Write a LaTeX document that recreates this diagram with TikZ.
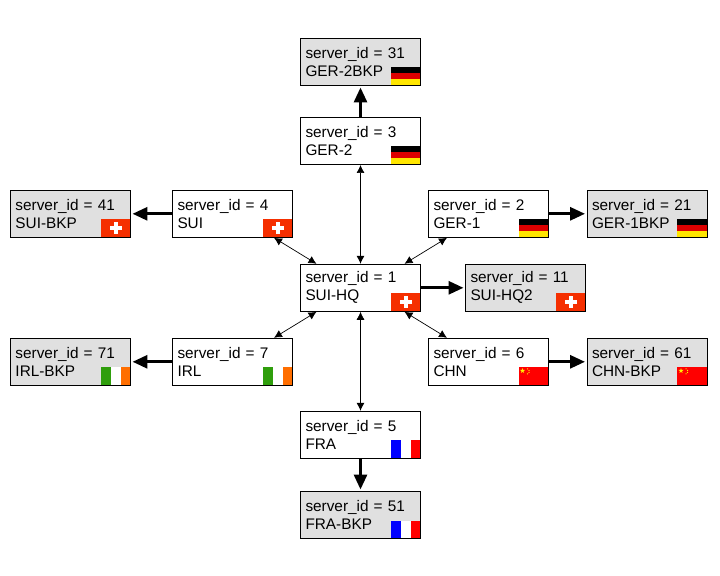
\documentclass[tikz,border=0pt]{standalone}
\usepackage{fontspec}
\setmainfont{Liberation Sans}
\usetikzlibrary{arrows.meta}
\usetikzlibrary{positioning}

\definecolor{boxgray}{HTML}{E0E0E0}
\definecolor{swissred}{HTML}{F52F00}
\definecolor{gergold}{HTML}{FFE600}
\definecolor{gerred}{HTML}{DD0000}
\definecolor{irlgreen}{HTML}{2F9E0C}
\definecolor{irlorange}{HTML}{FF6E00}
\definecolor{frablue}{HTML}{0000FF}

% offsets are measured from the lower right corner of the box
\newcommand{\flagrect}[5]{\fill[#1] ([xshift=#2bp,yshift=#3bp]path picture bounding box.south east) rectangle ([xshift=#4bp,yshift=#5bp]path picture bounding box.south east);}
\newcommand{\flagstar}[3]{\fill[yellow] ([xshift=#1bp,yshift=#2bp]path picture bounding box.south east) +(90:#3bp) -- +(234:#3bp) -- +(18:#3bp) -- +(162:#3bp) -- +(306:#3bp) -- cycle;}

\tikzset{
  server/.style = {draw, line width=1bp, minimum width=120bp, minimum height=47bp,
    inner sep=0pt, inner xsep=5bp, text width=110bp, align=left, font=\fontsize{15.4}{18}\selectfont},
  backup/.style = {server, fill=boxgray},
  link/.style = {line width=0.7pt, {Latex[length=8pt,width=8pt]}-{Latex[length=8pt,width=8pt]}},
  copyto/.style = {line width=3pt, -{Triangle[length=15pt,width=13pt]}, shorten >=1.5pt},
  flag ger/.style = {path picture={
    \flagrect{black}{-30}{18}{0}{12}
    \flagrect{gerred}{-30}{12}{0}{6}
    \flagrect{gergold}{-30}{6}{0}{0}}},
  flag sui/.style = {path picture={
    \flagrect{swissred}{-30}{18}{0}{0}
    \flagrect{white}{-17}{15}{-13}{3}
    \flagrect{white}{-21}{11}{-9}{7}}},
  flag irl/.style = {path picture={
    \flagrect{irlgreen}{-30}{18}{-20}{0}
    \flagrect{white}{-20}{18}{-10}{0}
    \flagrect{irlorange}{-10}{18}{0}{0}}},
  flag fra/.style = {path picture={
    \flagrect{frablue}{-30}{18}{-20}{0}
    \flagrect{white}{-20}{18}{-10}{0}
    \flagrect{red}{-10}{18}{0}{0}}},
  flag chn/.style = {path picture={
    \flagrect{red}{-30}{18}{0}{0}
    \flagstar{-26}{14.5}{2.7}
    \foreach \i/\j in {-21/16.5, -19.5/15, -19.5/13, -21/11.5} {
      \flagstar{\i}{\j}{0.8}}}},
}

\begin{document}
\begin{tikzpicture}[x=1bp, y=-1bp]
  \useasboundingbox (0,0) rectangle (720,576);

  % main servers
  \node[server, flag sui] (hq) at (360.5,287.8) {server\_id = 1\\SUI-HQ};
  \node[server, flag ger] (ger2) at (360.5,141) {server\_id = 3\\GER-2};
  \node[server, flag sui] (sui) at (232.5,213.8) {server\_id = 4\\SUI};
  \node[server, flag ger] (ger1) at (488.5,213.8) {server\_id = 2\\GER-1};
  \node[server, flag irl] (irl) at (232.5,361.8) {server\_id = 7\\IRL};
  \node[server, flag chn] (chn) at (488.5,361.8) {server\_id = 6\\CHN};
  \node[server, flag fra] (fra) at (360.5,434.8) {server\_id = 5\\FRA};

  % backups
  \node[backup, flag ger] (ger2bkp) at (360.5,62) {server\_id = 31\\GER-2BKP};
  \node[backup, flag sui] (suibkp) at (70.5,213.8) {server\_id = 41\\SUI-BKP};
  \node[backup, flag ger] (ger1bkp) at (647,213.8) {server\_id = 21\\GER-1BKP};
  \node[backup, flag sui] (hq2) at (525.5,287.8) {server\_id = 11\\SUI-HQ2};
  \node[backup, flag irl] (irlbkp) at (70.5,361.8) {server\_id = 71\\IRL-BKP};
  \node[backup, flag chn] (chnbkp) at (647,361.8) {server\_id = 61\\CHN-BKP};
  \node[backup, flag fra] (frabkp) at (360.5,515) {server\_id = 51\\FRA-BKP};

  \draw[link] (hq) -- (ger2);
  \draw[link] (hq) -- (fra);
  \draw[link] ([xshift=16.5bp]hq.north west) -- ([xshift=-19bp]sui.south east);
  \draw[link] ([xshift=-16.5bp]hq.north east) -- ([xshift=19bp]ger1.south west);
  \draw[link] ([xshift=16.5bp]hq.south west) -- ([xshift=-19bp]irl.north east);
  \draw[link] ([xshift=-16.5bp]hq.south east) -- ([xshift=19bp]chn.north west);

  \draw[copyto] (ger2) -- (ger2bkp);
  \draw[copyto] (fra) -- (frabkp);
  \draw[copyto] (sui) -- (suibkp);
  \draw[copyto] (ger1) -- (ger1bkp);
  \draw[copyto] (irl) -- (irlbkp);
  \draw[copyto] (chn) -- (chnbkp);
  \draw[copyto] (hq) -- (hq2);
\end{tikzpicture}
\end{document}
